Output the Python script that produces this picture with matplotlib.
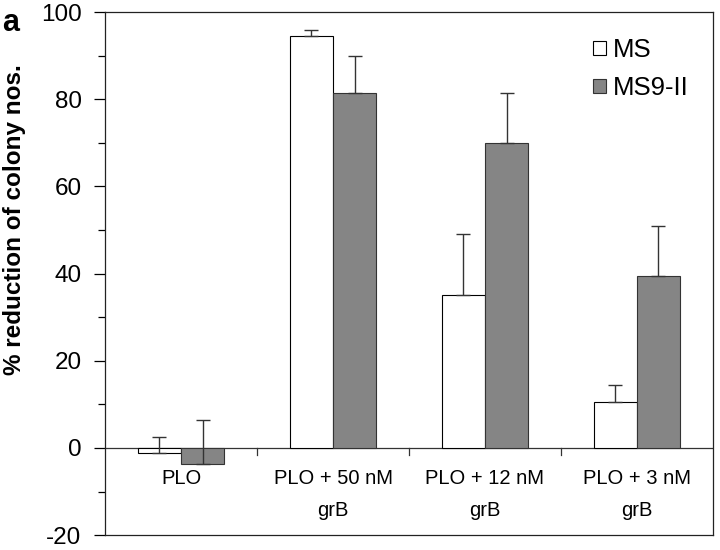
import numpy as np
import matplotlib.pyplot as plt

plt.rcParams['font.family'] = ['Liberation Sans', 'DejaVu Sans']
plt.rcParams['axes.unicode_minus'] = False

groups = ["PLO", "PLO + 50 nM\ngrB", "PLO + 12 nM\ngrB", "PLO + 3 nM\ngrB"]
ms = [-1.2, 94.5, 35.0, 10.5]
ms_err = [3.7, 1.3, 14.0, 4.0]
ms9 = [-3.7, 81.5, 70.0, 39.5]
ms9_err = [10.1, 8.5, 11.5, 11.5]

x = np.arange(len(groups))
w = 0.285

fig = plt.figure(figsize=(7.2, 5.5), dpi=100)
ax = fig.add_axes([0.146, 0.027, 0.844, 0.951])

err_kw = dict(ecolor="#333333", elinewidth=1.0, capsize=5, capthick=1.0)
ax.bar(x - w/2, ms, w, color="white", edgecolor="black", linewidth=0.8,
       yerr=[np.zeros(len(ms)), ms_err], error_kw=err_kw, label="MS", zorder=2)
ax.bar(x + w/2, ms9, w, color="#858585", edgecolor="#333333", linewidth=0.8,
       yerr=[np.zeros(len(ms9)), ms9_err], error_kw=err_kw, label="MS9-II", zorder=2)

ax.set_xlim(-0.5, len(groups) - 0.5)
ax.set_ylim(-20, 100)
ax.axhline(0, color="#333333", linewidth=0.9, zorder=1)
for b in x[:-1] + 0.5:
    ax.plot([b, b], [0, -1.6], color="#333333", linewidth=0.9, clip_on=False)

ax.set_xticks([])
for xi, g in zip(x, groups):
    ax.text(xi, -4.8, g, ha="center", va="top", fontsize=14.5, linespacing=1.85)

ax.set_yticks(np.arange(-20, 101, 20))
ax.set_yticks(np.arange(-20, 101, 10), minor=True)
ax.tick_params(axis="y", which="major", length=8, width=0.9, labelsize=17.5, pad=9)
ax.tick_params(axis="y", which="minor", length=5, width=0.9)
for s in ax.spines.values():
    s.set_linewidth(0.9)
    s.set_color("#222222")

ax.set_ylabel("% reduction of colony nos.", fontsize=17.5, fontweight="bold")
ax.yaxis.set_label_coords(-0.130, 0.603)

leg = ax.legend(loc="upper left", bbox_to_anchor=(0.782, 0.975), frameon=False,
                fontsize=18.5, handlelength=0.5, handleheight=0.5,
                handletextpad=0.25, labelspacing=0.55, borderpad=0)

fig.text(0.003, 0.985, "a", fontsize=22, fontweight="bold", va="top", ha="left")

fig.savefig("out.png", dpi=100)
